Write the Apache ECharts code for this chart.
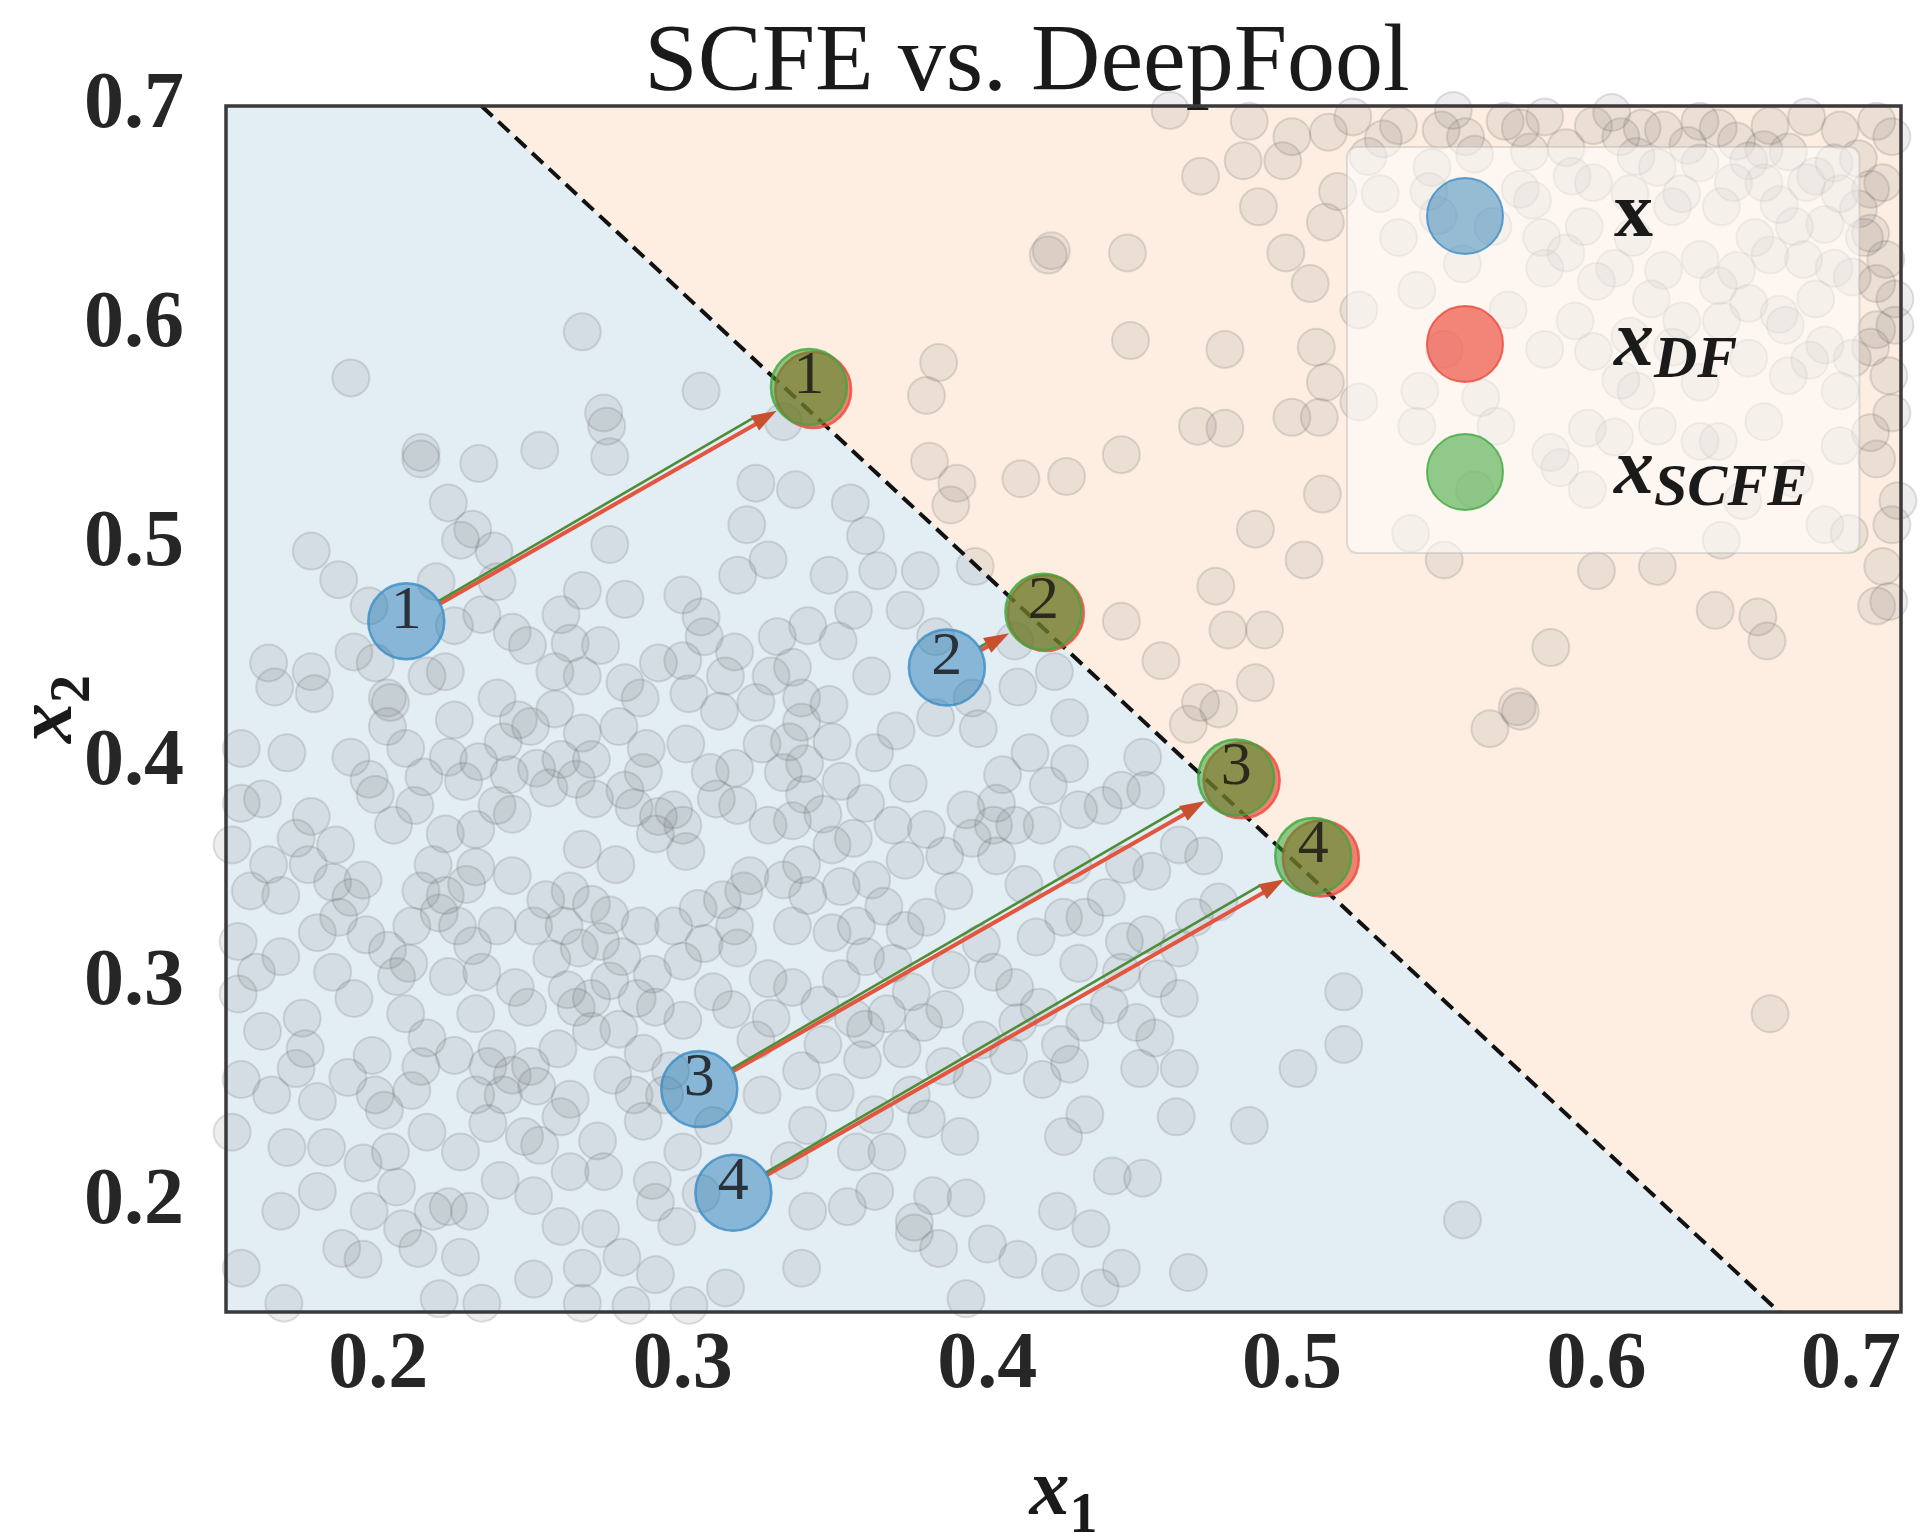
<!DOCTYPE html>
<html><head><meta charset="utf-8">
<script src="https://cdn.jsdelivr.net/npm/echarts@6/dist/echarts.min.js"></script>
<style>html,body{margin:0;padding:0;background:#fff}#c{width:1926px;height:1533px}</style>
</head><body><div id="c"></div>
<script>
// ---------- data ----------
const X_RANGE = [0.15, 0.70];
const Y_RANGE = [0.15, 0.70];
const TICKS = [0.2, 0.3, 0.4, 0.5, 0.6, 0.7];
const BOUNDARY_X = [0.2339, 0.660];
const BOUNDARY_Y = [0.70, 0.15];
const POINT_LABELS = ['1', '2', '3', '4'];
const ORIG_X = [0.2092, 0.3867, 0.3054, 0.3166];
const ORIG_Y = [0.4650, 0.4439, 0.2517, 0.2044];
const DF_X = [0.3428, 0.4192, 0.4835, 0.5095];
const DF_Y = [0.5705, 0.4688, 0.3925, 0.3568];
const SCFE_X = [0.3414, 0.4184, 0.4817, 0.5070];
const SCFE_Y = [0.5718, 0.4694, 0.3938, 0.3580];
const BG_POINTS = [
[0.191,0.576],[0.267,0.597],[0.306,0.570],[0.274,0.560],[0.275,0.554],[0.214,0.542],[0.214,0.539],[0.233,0.537],
[0.253,0.543],[0.276,0.540],[0.324,0.528],[0.223,0.519],[0.231,0.507],[0.227,0.502],[0.238,0.497],[0.178,0.497],
[0.187,0.484],[0.219,0.483],[0.239,0.483],[0.276,0.500],[0.321,0.509],[0.318,0.486],[0.328,0.493],[0.267,0.479],
[0.281,0.475],[0.300,0.477],[0.260,0.468],[0.234,0.468],[0.306,0.467],[0.197,0.472],[0.164,0.446],[0.178,0.442],
[0.192,0.451],[0.199,0.446],[0.225,0.463],[0.244,0.460],[0.249,0.454],[0.273,0.454],[0.292,0.446],[0.307,0.458],
[0.317,0.451],[0.331,0.458],[0.166,0.435],[0.179,0.432],[0.216,0.440],[0.222,0.442],[0.258,0.442],[0.267,0.440],
[0.286,0.430],[0.314,0.440],[0.329,0.440],[0.324,0.428],[0.302,0.432],[0.239,0.430],[0.204,0.428],[0.333,0.556],
[0.337,0.525],[0.355,0.519],[0.360,0.504],[0.348,0.486],[0.356,0.470],[0.373,0.470],[0.378,0.488],[0.364,0.488],
[0.396,0.490],[0.341,0.463],[0.351,0.456],[0.336,0.444],[0.362,0.440],[0.383,0.458],[0.410,0.435],[0.422,0.442],
[0.339,0.430],[0.409,0.456],
[0.460,0.698],[0.486,0.693],[0.470,0.668],[0.484,0.675],[0.497,0.675],[0.500,0.686],[0.512,0.688],[0.489,0.654],
[0.511,0.647],[0.515,0.661],[0.420,0.632],[0.421,0.634],[0.446,0.633],[0.498,0.633],[0.506,0.619],[0.384,0.583],
[0.380,0.568],[0.447,0.593],[0.478,0.589],[0.508,0.590],[0.511,0.574],[0.469,0.554],[0.478,0.553],[0.500,0.558],
[0.509,0.558],[0.444,0.541],[0.381,0.538],[0.390,0.528],[0.388,0.518],[0.411,0.530],[0.426,0.531],[0.510,0.523],
[0.488,0.507],[0.504,0.493],[0.475,0.481],[0.444,0.465],[0.479,0.461],[0.491,0.461],[0.457,0.447],[0.488,0.437],
[0.470,0.428],
[0.535,0.691],[0.549,0.689],[0.557,0.686],[0.570,0.693],[0.583,0.695],[0.599,0.691],[0.608,0.686],[0.622,0.689],
[0.634,0.693],[0.646,0.684],[0.657,0.691],[0.669,0.695],[0.680,0.689],[0.692,0.693],[0.525,0.677],[0.546,0.672],
[0.578,0.679],[0.590,0.681],[0.613,0.677],[0.634,0.674],[0.650,0.675],[0.663,0.679],[0.678,0.674],[0.529,0.660],
[0.545,0.661],[0.579,0.657],[0.599,0.665],[0.611,0.660],[0.625,0.654],[0.641,0.654],[0.655,0.665],[0.669,0.665],
[0.686,0.653],[0.694,0.665],[0.675,0.646],[0.690,0.642],[0.590,0.633],[0.606,0.626],[0.622,0.625],[0.634,0.630],
[0.646,0.625],[0.657,0.632],[0.678,0.626],[0.692,0.619],[0.556,0.628],[0.583,0.626],[0.522,0.607],[0.541,0.616],
[0.571,0.607],[0.593,0.602],[0.611,0.595],[0.628,0.602],[0.641,0.602],[0.660,0.605],[0.675,0.591],[0.692,0.598],
[0.698,0.612],[0.550,0.589],[0.583,0.589],[0.599,0.588],[0.542,0.570],[0.562,0.567],[0.613,0.570],[0.634,0.574],
[0.663,0.577],[0.680,0.570],[0.696,0.577],[0.522,0.565],[0.670,0.584],[0.541,0.554],[0.567,0.554],[0.597,0.553],
[0.620,0.554],[0.640,0.547],[0.655,0.556],[0.690,0.551],[0.585,0.542],[0.606,0.549],[0.634,0.547],[0.588,0.535],
[0.597,0.525],[0.560,0.525],[0.539,0.505],[0.641,0.502],[0.683,0.505],[0.697,0.509],[0.675,0.509],[0.692,0.539],
[0.550,0.493],[0.600,0.488],[0.620,0.490],[0.639,0.470],[0.653,0.467],[0.656,0.456],[0.585,0.453],[0.692,0.472],
[0.696,0.474],[0.574,0.426],
[0.680,0.660],[0.688,0.640],[0.672,0.612],[0.695,0.630],[0.665,0.645],[0.655,0.680],[0.640,0.690],[0.620,0.672],
[0.605,0.697],[0.592,0.668],[0.575,0.662],[0.560,0.678],[0.548,0.650],[0.535,0.640],[0.698,0.600],
[0.612,0.640],[0.628,0.660],[0.645,0.665],[0.660,0.655],[0.672,0.668],[0.686,0.676],[0.697,0.686],[0.690,0.662],
[0.684,0.622],[0.668,0.630],[0.652,0.640],[0.640,0.618],[0.618,0.612],[0.600,0.620],[0.582,0.640],[0.566,0.645],
[0.596,0.645],[0.630,0.682],[0.615,0.690],[0.575,0.690],[0.553,0.698],[0.520,0.695],[0.530,0.685],[0.662,0.600],
[0.690,0.590],[0.697,0.560],[0.684,0.585],[0.699,0.520],[0.694,0.490],[0.650,0.610],[0.625,0.590],[0.608,0.575],
[0.650,0.585],[0.680,0.545],[0.665,0.530],[0.648,0.520],
[0.565,0.416],[0.575,0.424],[0.466,0.418],[0.476,0.425],[0.657,0.286],[0.556,0.192],
[0.155,0.407],[0.170,0.405],[0.191,0.403],[0.203,0.417],[0.209,0.407],[0.223,0.403],[0.241,0.410],[0.250,0.417],
[0.267,0.414],[0.279,0.417],[0.288,0.407],[0.301,0.409],[0.326,0.409],[0.317,0.398],[0.333,0.396],[0.197,0.393],
[0.199,0.386],[0.215,0.394],[0.178,0.376],[0.162,0.384],[0.155,0.382],[0.239,0.381],[0.244,0.377],[0.222,0.368],
[0.232,0.370],[0.256,0.389],[0.265,0.393],[0.271,0.384],[0.291,0.368],[0.297,0.379],[0.311,0.384],[0.328,0.372],
[0.281,0.388],[0.186,0.363],[0.164,0.354],[0.195,0.347],[0.218,0.354],[0.232,0.353],[0.244,0.349],[0.267,0.361],
[0.278,0.354],[0.301,0.360],[0.322,0.349],[0.333,0.347],[0.152,0.363],[0.177,0.354],[0.168,0.340],[0.191,0.339],
[0.211,0.326],[0.220,0.332],[0.226,0.326],[0.239,0.326],[0.251,0.326],[0.261,0.326],[0.273,0.319],[0.286,0.326],
[0.297,0.326],[0.317,0.326],[0.307,0.318],[0.180,0.323],[0.154,0.319],[0.168,0.312],[0.185,0.305],[0.206,0.303],
[0.223,0.303],[0.234,0.305],[0.245,0.298],[0.266,0.316],[0.280,0.312],[0.300,0.310],[0.318,0.316],[0.328,0.302],
[0.154,0.295],[0.192,0.293],[0.175,0.284],[0.209,0.286],[0.216,0.275],[0.232,0.286],[0.249,0.289],[0.265,0.289],
[0.279,0.279],[0.285,0.293],[0.291,0.289],[0.324,0.274],[0.329,0.284],[0.198,0.267],[0.239,0.270],[0.225,0.267],
[0.173,0.261],[0.165,0.249],[0.180,0.246],[0.199,0.249],[0.211,0.251],[0.232,0.249],[0.241,0.249],[0.252,0.253],
[0.263,0.247],[0.277,0.258],[0.284,0.249],[0.294,0.249],[0.202,0.242],[0.326,0.249],[0.155,0.256],[0.183,0.225],
[0.195,0.218],[0.204,0.223],[0.227,0.223],[0.260,0.239],[0.263,0.214],[0.274,0.214],[0.287,0.237],[0.300,0.223],
[0.310,0.235],[0.152,0.232],[0.253,0.226],[0.206,0.207],[0.218,0.196],[0.230,0.196],[0.223,0.198],[0.197,0.196],
[0.260,0.189],[0.273,0.188],[0.291,0.200],[0.298,0.189],[0.251,0.203],[0.168,0.196],[0.188,0.179],[0.195,0.174],
[0.213,0.179],[0.227,0.175],[0.280,0.175],[0.155,0.170],[0.169,0.154],[0.251,0.165],[0.267,0.170],[0.291,0.167],
[0.314,0.161],[0.220,0.156],[0.234,0.154],[0.267,0.154],[0.302,0.153],[0.283,0.153],
[0.243,0.395],[0.252,0.398],[0.260,0.402],[0.284,0.380],[0.292,0.376],[0.300,0.372],[0.214,0.342],[0.222,0.340],
[0.229,0.345],[0.255,0.338],[0.263,0.342],[0.270,0.336],[0.276,0.331],[0.262,0.297],[0.270,0.293],[0.276,0.301],
[0.244,0.258],[0.250,0.262],[0.236,0.262],[0.305,0.334],[0.313,0.338],[0.320,0.342],[0.196,0.322],[0.203,0.315],
[0.210,0.309],[0.187,0.330],[0.231,0.317],[0.257,0.311],[0.290,0.304],[0.310,0.296],[0.316,0.288],[0.300,0.283],
[0.270,0.278],[0.259,0.270],[0.287,0.268],[0.296,0.260],[0.214,0.262],[0.190,0.257],[0.176,0.270],[0.162,0.278],
[0.185,0.346],[0.173,0.366],[0.205,0.372],[0.212,0.381],[0.228,0.392],[0.233,0.401],[0.270,0.402],[0.287,0.396],
[0.309,0.396],[0.318,0.381],[0.340,0.386],[0.352,0.392],[0.356,0.366],[0.380,0.370],[0.395,0.366],[0.352,0.344],
[0.366,0.335],[0.380,0.330],[0.398,0.318],[0.388,0.306],[0.360,0.312],[0.345,0.290],[0.356,0.284],[0.372,0.270],
[0.386,0.262],[0.410,0.282],[0.424,0.272],[0.440,0.290],[0.350,0.250],[0.363,0.240],[0.380,0.238],[0.236,0.236],
[0.248,0.230],[0.216,0.232],[0.272,0.228],[0.290,0.210],[0.306,0.204],[0.240,0.210],[0.208,0.188],[0.180,0.205],
[0.170,0.225],[0.160,0.305],[0.158,0.342],[0.203,0.430],[0.258,0.425],[0.281,0.437],[0.300,0.447],[0.263,0.455],
[0.246,0.420],[0.225,0.420],[0.312,0.424],[0.335,0.410],[0.348,0.427],[0.370,0.415],[0.395,0.430],[0.405,0.395],
[0.420,0.390],[0.412,0.345],[0.432,0.330],[0.452,0.322],[0.468,0.330],
[0.339,0.419],[0.363,0.405],[0.349,0.410],[0.340,0.400],[0.383,0.421],[0.397,0.416],[0.414,0.405],[0.427,0.421],
[0.427,0.400],[0.451,0.403],[0.360,0.382],[0.374,0.391],[0.346,0.377],[0.393,0.379],[0.403,0.382],[0.409,0.372],
[0.430,0.379],[0.438,0.381],[0.444,0.388],[0.452,0.388],[0.369,0.372],[0.336,0.374],[0.402,0.372],[0.418,0.372],
[0.349,0.363],[0.373,0.356],[0.386,0.358],[0.403,0.358],[0.428,0.354],[0.445,0.354],[0.454,0.351],[0.463,0.363],
[0.471,0.358],[0.339,0.354],[0.362,0.347],[0.341,0.340],[0.357,0.326],[0.373,0.324],[0.389,0.342],[0.416,0.321],
[0.425,0.330],[0.439,0.339],[0.445,0.319],[0.463,0.316],[0.476,0.337],[0.336,0.326],[0.349,0.323],[0.369,0.309],
[0.402,0.305],[0.409,0.298],[0.430,0.309],[0.444,0.305],[0.456,0.302],[0.463,0.293],[0.375,0.296],[0.352,0.302],
[0.336,0.298],[0.517,0.296],[0.367,0.286],[0.386,0.288],[0.379,0.282],[0.417,0.289],[0.432,0.282],[0.449,0.282],
[0.455,0.275],[0.360,0.279],[0.346,0.272],[0.398,0.274],[0.517,0.272],[0.339,0.260],[0.359,0.265],[0.375,0.249],
[0.395,0.256],[0.418,0.256],[0.427,0.263],[0.450,0.261],[0.463,0.261],[0.502,0.261],[0.407,0.267],[0.341,0.235],
[0.357,0.223],[0.391,0.230],[0.432,0.240],[0.425,0.230],[0.462,0.239],[0.486,0.235],[0.367,0.223],[0.335,0.219],
[0.341,0.196],[0.354,0.198],[0.363,0.205],[0.382,0.203],[0.393,0.202],[0.376,0.191],[0.423,0.196],[0.441,0.212],
[0.451,0.211],[0.434,0.188],[0.376,0.186],[0.384,0.179],[0.400,0.181],[0.410,0.174],[0.424,0.168],[0.444,0.170],
[0.466,0.168],[0.339,0.170],[0.393,0.156],[0.437,0.161]
];

// ---------- chart ----------
const SERIF = "'Liberation Serif','DejaVu Serif',serif";
const chart = echarts.init(document.getElementById('c'), null, {renderer: 'canvas'});
const zip = (a, b) => a.map((v, i) => [v, b[i]]);

function regionItem(params, api) {
  const c = p => api.coord(p);
  const blue = [[X_RANGE[0], Y_RANGE[1]], [BOUNDARY_X[0], BOUNDARY_Y[0]], [BOUNDARY_X[1], BOUNDARY_Y[1]], [X_RANGE[0], Y_RANGE[0]]].map(c);
  const peach = [[BOUNDARY_X[0], BOUNDARY_Y[0]], [X_RANGE[1], Y_RANGE[1]], [X_RANGE[1], Y_RANGE[0]], [BOUNDARY_X[1], BOUNDARY_Y[1]]].map(c);
  return {type: 'group', children: [
    {type: 'polygon', shape: {points: blue}, style: {fill: '#e2edf4'}},
    {type: 'polygon', shape: {points: peach}, style: {fill: '#fdeee1'}}
  ]};
}

function arrowSeries(name, tx, ty, color, width, shift, headColor, z) {
  return {
    type: 'custom', name: name, z: z, silent: true, clip: false,
    encode: {x: [0, 2], y: [1, 3]},
    data: ORIG_X.map((v, i) => [v, ORIG_Y[i], tx[i], ty[i]]),
    renderItem(params, api) {
      const a = api.coord([api.value(0), api.value(1)]);
      const b = api.coord([api.value(2), api.value(3)]);
      const dx = b[0] - a[0], dy = b[1] - a[1], len = Math.hypot(dx, dy);
      const ux = dx / len, uy = dy / len, nx = -uy, ny = ux;
      const r0 = 38, r1 = 42, head = 25, hw = 8.5;
      const tipx = b[0] - ux * r1, tipy = b[1] - uy * r1;
      const bx = tipx - ux * head, by = tipy - uy * head;
      const children = [{
        type: 'line',
        shape: {x1: a[0] + ux * r0 + nx * shift, y1: a[1] + uy * r0 + ny * shift,
                x2: bx + ux * 6 + nx * shift, y2: by + uy * 6 + ny * shift},
        style: {stroke: color, lineWidth: width}
      }];
      if (headColor) {
        children.push({type: 'polygon',
          shape: {points: [[tipx, tipy], [bx + nx * hw, by + ny * hw], [bx - nx * hw, by - ny * hw]]},
          style: {fill: headColor}});
      }
      return {type: 'group', children: children};
    }
  };
}

const numLabel = {
  show: true, position: 'inside', offset: [0, -10],
  formatter: p => POINT_LABELS[p.dataIndex],
  fontFamily: SERIF, fontSize: 62, color: '#111'
};

const tickLabel = {
  fontFamily: SERIF, fontWeight: 'bold', fontSize: 80, color: '#262626',
  formatter: v => Number(v).toFixed(1)
};

const legendRich = {
  u: {fontFamily: SERIF, fontWeight: 'bold', fontSize: 78, color: '#1a1a1a', lineHeight: 76},
  i: {fontFamily: SERIF, fontWeight: 'bold', fontStyle: 'italic', fontSize: 80, color: '#1a1a1a', lineHeight: 76},
  s: {fontFamily: SERIF, fontWeight: 'bold', fontStyle: 'italic', fontSize: 60, color: '#1a1a1a',
      lineHeight: 76, height: 42, verticalAlign: 'bottom'}
};
const axisRich = {
  i: {fontFamily: SERIF, fontWeight: 'bold', fontStyle: 'italic', fontSize: 80, color: '#1a1a1a'},
  n: {fontFamily: SERIF, fontWeight: 'bold', fontSize: 56, color: '#1a1a1a', padding: [50, 0, 0, 0]}
};

const option = {
  backgroundColor: '#ffffff',
  animation: false,
  title: {
    text: 'SCFE vs. DeepFool', left: 1022, top: 12, textAlign: 'center',
    textStyle: {fontFamily: SERIF, fontWeight: 'normal', fontSize: 96, color: '#1a1a1a'}
  },
  grid: {left: 226, right: 25, top: 106, bottom: 221, show: true, borderColor: '#3a3a3a', borderWidth: 3.5,
         backgroundColor: 'transparent', z: 20, containLabel: false, outerBoundsMode: 'none'},
  legend: {
    data: ['x', 'x_DF', 'x_SCFE'], orient: 'vertical', left: 1347, top: 147,
    itemWidth: 76, itemHeight: 76, itemGap: 41, icon: 'circle',
    padding: [30, 52, 34, 79], backgroundColor: 'rgba(255,255,255,0.55)',
    borderColor: 'rgba(185,185,185,0.45)', borderWidth: 2, borderRadius: 10,
    formatter: n => ({x: '{u|x}{s|\u00a0}', x_DF: '{i|x}{s|DF}', x_SCFE: '{i|x}{s|SCFE}'})[n],
    textStyle: {padding: [0, 0, 0, 106], rich: legendRich},
    selectedMode: false
  },
  xAxis: {
    type: 'value', min: X_RANGE[0], max: X_RANGE[1],
    name: '{i|x}{n|1}', nameLocation: 'middle', nameGap: 128, nameMoveOverlap: false,
    nameTextStyle: {rich: axisRich},
    axisLine: {show: false}, axisTick: {show: false}, splitLine: {show: false},
    axisLabel: Object.assign({customValues: TICKS, margin: 14, alignMaxLabel: 'right'}, tickLabel)
  },
  yAxis: {
    type: 'value', min: Y_RANGE[0], max: Y_RANGE[1],
    name: '{i|x}{n|2}', nameLocation: 'middle', nameGap: 123, nameRotate: 90, nameMoveOverlap: false,
    nameTextStyle: {rich: axisRich},
    axisLine: {show: false}, axisTick: {show: false}, splitLine: {show: false},
    axisLabel: Object.assign({customValues: TICKS, margin: 42}, tickLabel)
  },
  series: [
    {type: 'custom', name: 'regions', z: 1, silent: true, data: [[X_RANGE[0], Y_RANGE[0]]], renderItem: regionItem},
    {type: 'scatter', name: 'data', z: 2, silent: true, symbolSize: 37, data: BG_POINTS,
     itemStyle: {color: 'rgba(105,105,105,0.15)', borderColor: 'rgba(90,90,90,0.22)', borderWidth: 2}},
    {type: 'line', name: 'boundary', z: 3, silent: true, symbol: 'none', data: zip(BOUNDARY_X, BOUNDARY_Y),
     lineStyle: {color: '#111', width: 4, type: [15, 8]}},
    arrowSeries('arrowDF', DF_X, DF_Y, '#e4553f', 4, 1.3, null, 4),
    arrowSeries('arrowSCFE', SCFE_X, SCFE_Y, '#4e8d37', 2.6, -1.2, null, 5),
    arrowSeries('headDF', DF_X, DF_Y, 'rgba(0,0,0,0)', 0, 0, '#c9502e', 6),
    {type: 'scatter', name: 'x_DF', z: 7, symbolSize: 76, data: zip(DF_X, DF_Y),
     itemStyle: {color: 'rgba(235,55,40,0.75)', borderColor: '#e8473a', borderWidth: 2.5}},
    {type: 'scatter', name: 'x_SCFE', z: 8, symbolSize: 76, data: zip(SCFE_X, SCFE_Y),
     itemStyle: {color: 'rgba(44,160,44,0.65)', borderColor: '#3da83d', borderWidth: 2.5},
     label: numLabel},
    {type: 'scatter', name: 'x', z: 9, symbolSize: 76, data: zip(ORIG_X, ORIG_Y),
     itemStyle: {color: 'rgba(31,119,180,0.58)', borderColor: '#3a8cc6', borderWidth: 2.5},
     label: numLabel}
  ]
};
chart.setOption(option);
</script>
</body></html>
